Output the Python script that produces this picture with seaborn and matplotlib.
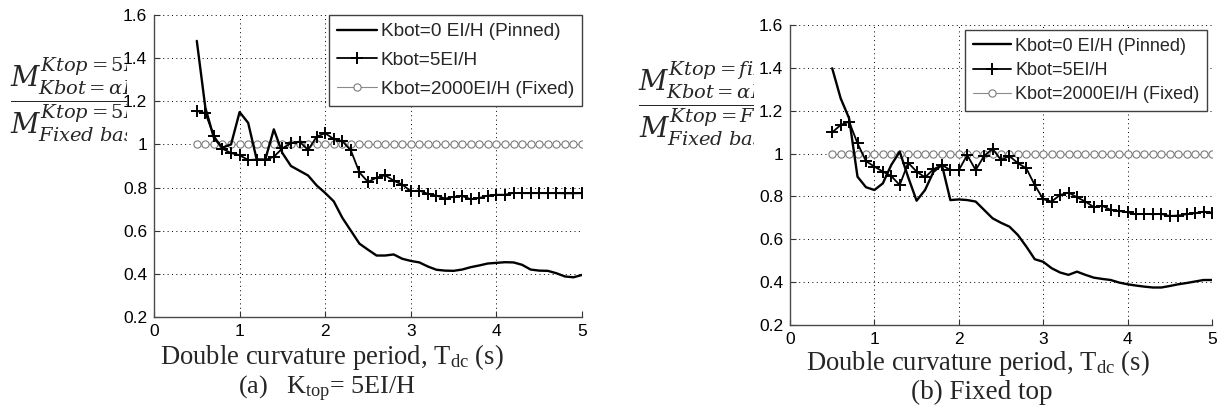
import matplotlib
matplotlib.use("Agg")
import matplotlib.pyplot as plt
import seaborn as sns
from matplotlib.transforms import Bbox, TransformedBbox

# Double curvature period T_dc (s)
period = [0.5, 0.6, 0.7, 0.8, 0.9, 1.0, 1.1, 1.2, 1.3, 1.4,
          1.5, 1.6, 1.7, 1.8, 1.9, 2.0, 2.1, 2.2, 2.3, 2.4,
          2.5, 2.6, 2.7, 2.8, 2.9, 3.0, 3.1, 3.2, 3.3, 3.4,
          3.5, 3.6, 3.7, 3.8, 3.9, 4.0, 4.1, 4.2, 4.3, 4.4,
          4.5, 4.6, 4.7, 4.8, 4.9, 5.0]

# (a) Ktop = 5EI/H : moment ratio to the fixed-base case
a_pinned = [1.48, 1.17, 1.03, 0.985, 1.00, 1.15, 1.10, 0.93, 0.93, 1.07,
            0.96, 0.90, 0.878, 0.856, 0.81, 0.775, 0.736, 0.66, 0.60, 0.54,
            0.512, 0.485, 0.485, 0.49, 0.47, 0.46, 0.453, 0.434, 0.419, 0.415,
            0.414, 0.42, 0.431, 0.439, 0.448, 0.451, 0.454, 0.453, 0.442, 0.42,
            0.415, 0.414, 0.403, 0.388, 0.384, 0.395]
a_k5 = [1.155, 1.145, 1.04, 0.98, 0.96, 0.95, 0.928, 0.93, 0.928, 0.943,
        0.982, 1.005, 1.013, 0.974, 1.036, 1.052, 1.025, 1.015, 0.972, 0.87,
        0.826, 0.846, 0.857, 0.832, 0.814, 0.783, 0.786, 0.771, 0.763, 0.749,
        0.757, 0.761, 0.746, 0.752, 0.763, 0.767, 0.767, 0.775, 0.774, 0.774,
        0.774, 0.774, 0.774, 0.773, 0.773, 0.774]

# (b) Fixed top
b_pinned = [1.398, 1.258, 1.165, 0.892, 0.843, 0.83, 0.861, 0.947, 1.009, 0.89,
            0.78, 0.83, 0.915, 0.947, 0.783, 0.786, 0.783, 0.776, 0.737, 0.698,
            0.677, 0.659, 0.62, 0.566, 0.507, 0.495, 0.465, 0.445, 0.434, 0.449,
            0.434, 0.421, 0.415, 0.41, 0.398, 0.39, 0.384, 0.379, 0.375, 0.375,
            0.382, 0.39, 0.396, 0.403, 0.41, 0.41]
b_k5 = [1.099, 1.133, 1.149, 1.048, 0.965, 0.939, 0.916, 0.895, 0.853, 0.957,
        0.916, 0.889, 0.927, 0.947, 0.923, 0.923, 0.993, 0.923, 0.989, 1.022,
        0.97, 0.989, 0.955, 0.931, 0.853, 0.787, 0.776, 0.807, 0.818, 0.796,
        0.776, 0.75, 0.756, 0.737, 0.732, 0.726, 0.717, 0.718, 0.717, 0.718,
        0.709, 0.711, 0.717, 0.722, 0.729, 0.725]

# Kbot = 2000EI/H is the reference (fixed) case itself
fixed_ratio = [1.0, 1.0, 1.0, 1.0, 1.0, 1.0, 1.0, 1.0, 1.0, 1.0,
               1.0, 1.0, 1.0, 1.0, 1.0, 1.0, 1.0, 1.0, 1.0, 1.0,
               1.0, 1.0, 1.0, 1.0, 1.0, 1.0, 1.0, 1.0, 1.0, 1.0,
               1.0, 1.0, 1.0, 1.0, 1.0, 1.0, 1.0, 1.0, 1.0, 1.0,
               1.0, 1.0, 1.0, 1.0, 1.0, 1.0]

labels = ["Kbot=0 EI/H (Pinned)", "Kbot=5EI/H", "Kbot=2000EI/H (Fixed)"]
x_ticks = [0, 1, 2, 3, 4, 5]
y_ticks = [0.2, 0.4, 0.6, 0.8, 1.0, 1.2, 1.4, 1.6]
y_tick_labels = ["0.2", "0.4", "0.6", "0.8", "1", "1.2", "1.4", "1.6"]

sns.set_theme(style="white")
plt.rcParams["font.family"] = ["Liberation Sans", "DejaVu Sans"]
plt.rcParams["mathtext.fontset"] = "custom"
plt.rcParams["mathtext.rm"] = "Liberation Serif"
plt.rcParams["mathtext.it"] = "Liberation Serif:italic"

W, H = 1227, 415
fig = plt.figure(figsize=(W / 100, H / 100), dpi=100)


def fig_box(x0, y0, x1, y1):
    """Axes rectangle given in pixel extents (top-left origin)."""
    return [x0 / W, 1 - y1 / H, (x1 - x0) / W, (y1 - y0) / H]


ax_a = fig.add_axes(fig_box(154, 15, 582, 317))
ax_b = fig.add_axes(fig_box(790, 25, 1212, 325))


def draw_panel(ax, pinned, k5, leg):
    sns.lineplot(x=period, y=pinned, ax=ax, color="black", lw=1.7,
                 estimator=None, errorbar=None, label=labels[0], zorder=3)
    sns.lineplot(x=period, y=k5, ax=ax, color="black", lw=1.3,
                 marker="+", markersize=8, markeredgecolor="black",
                 markeredgewidth=1.4, estimator=None, errorbar=None,
                 label=labels[1], zorder=4)
    sns.lineplot(x=period, y=fixed_ratio, ax=ax, color="#8a8a8a", lw=0.8,
                 marker="o", markersize=5.2, markerfacecolor="white",
                 markeredgecolor="#7a7a7a", markeredgewidth=0.8,
                 estimator=None, errorbar=None, label=labels[2], zorder=2)

    ax.set_xlim(0, 5)
    ax.set_ylim(0.2, 1.6)
    ax.set_xticks(x_ticks)
    ax.set_xticklabels([str(t) for t in x_ticks])
    ax.set_yticks(y_ticks)
    ax.set_yticklabels(y_tick_labels)
    ax.set_xlabel("")
    ax.set_ylabel("")
    ax.grid(True, color="black", lw=0.7, linestyle=(0, (1, 3.5)))
    ax.set_axisbelow(True)
    for side in ("top", "right"):
        ax.spines[side].set_visible(False)
    for side in ("left", "bottom"):
        ax.spines[side].set_color("#4a4a4a")
        ax.spines[side].set_linewidth(1.0)
    ax.tick_params(axis="both", direction="in", length=4, width=0.8,
                   colors="#333333", labelcolor="black", labelsize=12.5, pad=5,
                   left=True, bottom=True)

    lg = ax.legend(loc="upper right", fancybox=False, framealpha=1,
                   edgecolor="#404040", **leg)
    lg.get_frame().set_linewidth(1.0)
    lg.set_zorder(10)


draw_panel(ax_a, a_pinned, a_k5,
           dict(fontsize=13.7, borderaxespad=0.0, handlelength=2.1,
                handletextpad=0.2, labelspacing=0.6, borderpad=0.42))
draw_panel(ax_b, b_pinned, b_k5,
           dict(fontsize=13, borderaxespad=0.28, handlelength=2.1,
                handletextpad=0.25, labelspacing=0.4, borderpad=0.42))


def ratio_label(x_px, y_px, clip_px, num_sup, num_sub, den_sup, den_sub):
    """Moment-ratio fraction, cut off where the tick labels begin."""
    txt = (r"$\dfrac{M^{%s}_{%s}}{M^{%s}_{%s}}$"
           % (num_sup, num_sub, den_sup, den_sub))
    t = fig.text(x_px / W, 1 - y_px / H, txt, ha="left", va="center",
                 fontsize=20, math_fontfamily="dejavuserif")
    t.set_clip_box(TransformedBbox(Bbox.from_extents(0, 0, clip_px / W, 1),
                                   fig.transFigure))
    t.set_clip_on(True)


ratio_label(10, 100, 127, r"Ktop=5EI/H", r"Kbot=\alpha EI/H",
            r"Ktop=5EI/H", r"Fixed\ base")
ratio_label(638, 104, 754, r"Ktop=fixed", r"Kbot=\alpha EI/H",
            r"Ktop=Fixed", r"Fixed\ base")

xlab = r"Double curvature period, T$_{\mathrm{dc}}$ (s)"
serif = "Liberation Serif"
fig.text(332 / W, 1 - 357 / H, xlab, ha="center", va="center",
         family=serif, size=19.2)
fig.text(327 / W, 1 - 389 / H, r"(a)   K$_{\mathrm{top}}$= 5EI/H",
         ha="center", va="center", family=serif, size=18.8)
fig.text(978 / W, 1 - 363 / H, xlab, ha="center", va="center",
         family=serif, size=19.2)
fig.text(982 / W, 1 - 392 / H, "(b) Fixed top",
         ha="center", va="center", family=serif, size=19.5)

fig.savefig("out.png", dpi=100, facecolor="white")
